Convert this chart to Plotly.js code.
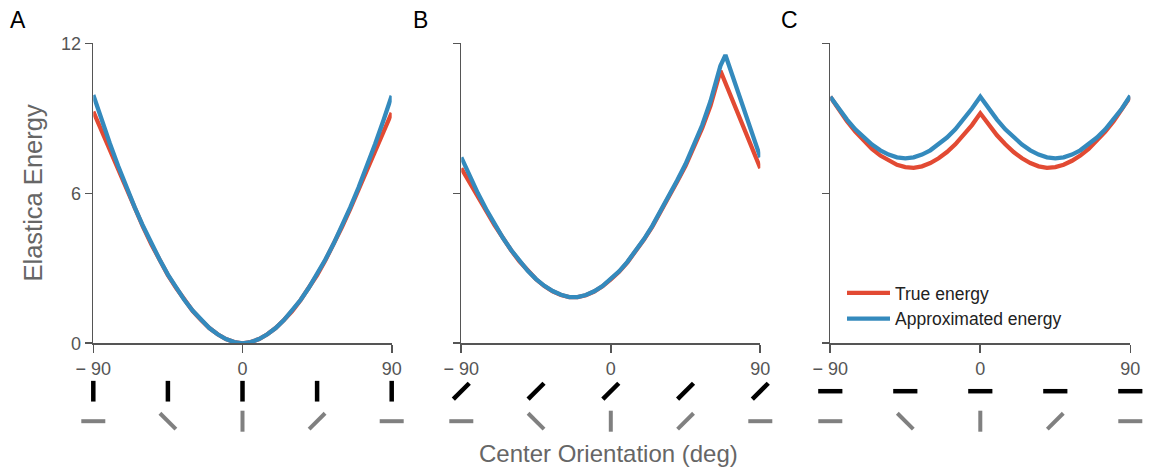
<!DOCTYPE html>
<html><head><meta charset="utf-8">
<script src="https://cdn.plot.ly/plotly-3.0.1.min.js"></script>
<style>html,body{margin:0;padding:0;background:#fff}#chart{width:1155px;height:472px}</style>
</head><body><div id="chart"></div>
<script>
// ---- data ----
const orientation = [-90,-85,-80,-75,-70,-65,-60,-55,-50,-45,-40,-35,-30,-25,-20,-15,-10,-5,0,5,10,15,20,25,30,35,40,45,50,55,60,65,70,75,80,85,90];
const trueA   = [9.27,8.50,7.72,6.93,6.15,5.39,4.66,3.96,3.32,2.73,2.21,1.72,1.29,0.93,0.61,0.36,0.17,0.05,0,0.05,0.17,0.36,0.61,0.93,1.29,1.72,2.21,2.73,3.32,3.96,4.65,5.38,6.14,6.91,7.70,8.47,9.22];
const approxA = [9.93,8.93,7.99,7.09,6.24,5.44,4.69,3.99,3.35,2.75,2.22,1.73,1.30,0.93,0.61,0.36,0.17,0.05,0,0.05,0.17,0.36,0.61,0.93,1.30,1.73,2.22,2.75,3.35,3.99,4.69,5.44,6.23,7.07,7.97,8.91,9.90];

const orientationTrueB = [-90,-85,-80,-75,-70,-65,-60,-55,-50,-45,-40,-35,-30,-25,-20,-15,-10,-5,0,5,10,15,20,25,30,35,40,45,50,55,60,65,66,70,75,80,85,90];
const trueB = [7.00,6.46,5.88,5.30,4.73,4.20,3.72,3.28,2.89,2.56,2.29,2.08,1.93,1.85,1.85,1.92,2.07,2.28,2.56,2.86,3.24,3.67,4.15,4.67,5.25,5.86,6.47,7.10,7.81,8.60,9.50,10.60,10.90,10.25,9.44,8.63,7.81,7.00];
const orientationApproxB = [-90,-85,-80,-75,-70,-65,-60,-55,-50,-45,-40,-35,-30,-25,-20,-15,-10,-5,0,5,10,15,20,25,30,35,40,45,50,55,60,65,66,69,70,75,80,85,90];
const approxB = [7.44,6.70,6.00,5.36,4.76,4.22,3.73,3.29,2.90,2.57,2.30,2.09,1.94,1.85,1.85,1.93,2.08,2.29,2.58,2.88,3.26,3.69,4.17,4.70,5.28,5.90,6.52,7.17,7.90,8.72,9.68,10.85,11.10,11.53,11.34,10.36,9.39,8.41,7.44];

const trueC   = [9.86,9.35,8.88,8.47,8.10,7.78,7.51,7.30,7.14,7.05,7.02,7.08,7.21,7.40,7.65,7.96,8.32,8.73,9.20,8.73,8.32,7.96,7.65,7.40,7.21,7.08,7.02,7.05,7.14,7.30,7.51,7.78,8.10,8.47,8.88,9.35,9.86];
const approxC = [9.86,9.39,8.95,8.56,8.23,7.95,7.72,7.55,7.44,7.40,7.44,7.55,7.72,7.95,8.23,8.56,8.95,9.39,9.86,9.39,8.95,8.56,8.23,7.95,7.72,7.55,7.44,7.40,7.44,7.55,7.72,7.95,8.23,8.56,8.95,9.39,9.90];

const glyphOrientation = [-90,-45,0,45,90];   // center element orientation (deg, 0 = vertical)
const flankerOrientation = [0,45,90];          // flanker orientation per panel
const panelLabels = ['A','B','C'];
const seriesNames = ['True energy','Approximated energy'];
const xTickVals = [-90,0,90];
const xTickText = ['\u2212 90','0','90'];
const yTickVals = [0,6,12];
const yTickText = ['0','6','12'];
const rowNames = ['center','flanker'];

// ---- styling ----
const RED = '#E24A33', BLUE = '#348ABD', AX = '#555555';
const FONT = 'Liberation Sans, Arial, sans-serif';
const W = 1155, H = 472;
const xDomains = [[93.3/W, 391.7/W],[461.3/W, 760.3/W],[830.3/W, 1130.3/W]];
const yDomain = [1-343.3/H, 1-43.3/H];
const glyphDomain = [1-436.2/H, 1-376.2/H];

const panels = [
  {tx: orientation, ty: trueA, ax: orientation, ay: approxA},
  {tx: orientationTrueB, ty: trueB, ax: orientationApproxB, ay: approxB},
  {tx: orientation, ty: trueC, ax: orientation, ay: approxC}
];

function glyphSize(angleDeg, hx, hy){
  const r = angleDeg*Math.PI/180;
  const len = 2*Math.sqrt(Math.pow(hx*Math.sin(r),2)+Math.pow(hy*Math.cos(r),2));
  return len/1.4; // 'line-ns' symbol length = 1.4 * size
}

const data = [];
const layout = {
  width: W, height: H,
  margin: {l:0, r:0, t:0, b:0, pad:0},
  paper_bgcolor: '#fff', plot_bgcolor: 'rgba(0,0,0,0)',
  showlegend: true,
  legend: {x: 842/W, y: 1-275/H, xanchor:'left', yanchor:'top', bgcolor:'rgba(0,0,0,0)',
           font:{family:FONT, size:17.5, color:'#222'}, itemwidth: 43, tracegroupgap: 0},
  annotations: [],
  hovermode: false
};

panels.forEach((p, i) => {
  const s = i === 0 ? '' : String(i+1);
  const gs = String(i+4);
  data.push({type:'scatter', mode:'lines', x:p.tx, y:p.ty, xaxis:'x'+s, yaxis:'y'+s,
             name: seriesNames[0], legendgroup:'t', showlegend: i===0,
             line:{color:RED, width:4.3}});
  data.push({type:'scatter', mode:'lines', x:p.ax, y:p.ay, xaxis:'x'+s, yaxis:'y'+s,
             name: seriesNames[1], legendgroup:'a', showlegend: i===0,
             line:{color:BLUE, width:4.3}});
  // flanker glyphs (black)
  const fa = glyphOrientation.map(() => flankerOrientation[i]);
  data.push({type:'scatter', mode:'markers', x:glyphOrientation, y:glyphOrientation.map(()=>rowNames[1]),
             xaxis:'x'+gs, yaxis:'y'+gs, showlegend:false, cliponaxis:false, hoverinfo:'skip',
             marker:{symbol:'line-ns-open', angle:fa, size:fa.map(a=>glyphSize(a,12.1,10.35)), opacity:1,
                     color:'#000', line:{color:'#000', width:4.5}}});
  // center glyphs (gray)
  data.push({type:'scatter', mode:'markers', x:glyphOrientation, y:glyphOrientation.map(()=>rowNames[0]),
             xaxis:'x'+gs, yaxis:'y'+gs, showlegend:false, cliponaxis:false, hoverinfo:'skip',
             marker:{symbol:'line-ns-open', angle:glyphOrientation, size:glyphOrientation.map(a=>glyphSize(a,12,10.5)), opacity:1,
                     color:'#808080', line:{color:'#808080', width:4}}});

  layout['xaxis'+s] = {domain:xDomains[i], anchor:'y'+s, range:[-90,90], tickmode:'array',
    tickvals:xTickVals, ticktext:xTickText, showgrid:false, zeroline:false, showline:true,
    linecolor:AX, linewidth:1.6, ticks:'outside', ticklen:8, tickwidth:1.6, tickcolor:AX,
    tickfont:{family:FONT, size:18, color:AX}, fixedrange:true};
  layout['yaxis'+s] = {domain:yDomain, anchor:'x'+s, range:[0,12], tickmode:'array',
    tickvals:yTickVals, ticktext:yTickText, showticklabels: i===0, showgrid:false, zeroline:false,
    showline:true, linecolor:AX, linewidth:1.6, ticks:'outside', ticklen:7, tickwidth:1.6, tickcolor:AX,
    tickfont:{family:FONT, size:18, color:AX}, fixedrange:true};
  layout['xaxis'+gs] = {domain:xDomains[i], anchor:'y'+gs, range:[-90,90], visible:false, fixedrange:true};
  layout['yaxis'+gs] = {domain:glyphDomain, anchor:'x'+gs, type:'category', categoryarray:rowNames,
    range:[-0.5,1.5], visible:false, fixedrange:true};

  layout.annotations.push({text:panelLabels[i], xref:'paper', yref:'paper',
    x:[8,411,779][i]/W, y:1-5/H, xanchor:'left', yanchor:'top', showarrow:false,
    font:{family:FONT, size:23, color:'#000'}});
});

layout.annotations.push({text:'Elastica Energy', xref:'paper', yref:'paper', x:33/W, y:1-193.5/H,
  xanchor:'center', yanchor:'middle', textangle:-90, showarrow:false,
  font:{family:FONT, size:25.5, color:'#666'}});
layout.annotations.push({text:'Center Orientation (deg)', xref:'paper', yref:'paper', x:608/W, y:1-453/H,
  xanchor:'center', yanchor:'middle', showarrow:false,
  font:{family:FONT, size:24, color:'#666'}});

Plotly.newPlot('chart', data, layout, {staticPlot:true, displayModeBar:false});
</script></body></html>
